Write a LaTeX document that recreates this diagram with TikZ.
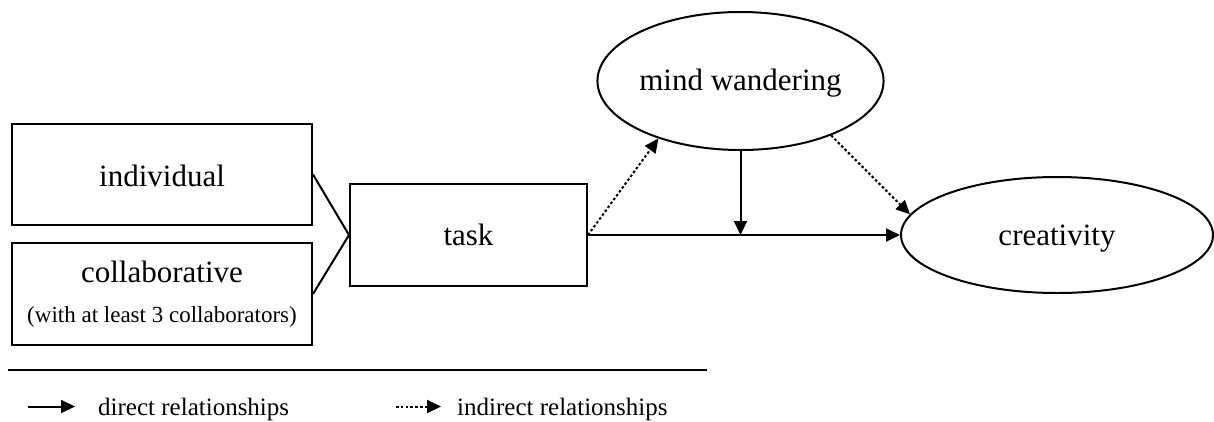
\documentclass[tikz,border=0pt]{standalone}
\usepackage{fontspec}
\setmainfont{Liberation Serif}
\usetikzlibrary{arrows.meta,shapes.geometric}

\tikzset{
  every picture/.style={x=1pt,y=-1pt},
  stroke/.style={line width=2pt},
  boxnode/.style={stroke, draw, rectangle, inner sep=0pt, font=\fontsize{31}{37}\selectfont, align=center},
  ovalnode/.style={stroke, draw, ellipse, inner sep=0pt, font=\fontsize{31}{37}\selectfont},
  arr/.style={stroke, -{Triangle[length=14pt,width=13pt]}},
  dotarr/.style={arr, dash pattern=on 2.6pt off 2.2pt},
  legendtext/.style={anchor=base west, inner sep=0pt, font=\fontsize{25}{30}\selectfont},
}

\begin{document}
\begin{tikzpicture}
  \useasboundingbox (0,0) rectangle (1214,421);

  % task conditions
  \node[boxnode, minimum width=300pt, minimum height=101pt, text height=23pt, text depth=0pt]
    (indiv) at (162,174.5) {individual};
  \node[boxnode, minimum width=300pt, minimum height=102pt] (collab) at (162,294)
    {collaborative\\[3pt]{\fontsize{23}{30}\selectfont (with at least 3 collaborators)}};
  \node[boxnode, minimum width=237pt, minimum height=102pt, text height=20pt, text depth=0pt]
    (task) at (468.5,235) {task};

  % mediator and outcome
  \node[ovalnode, minimum width=263pt, minimum height=138pt, text height=18pt, text depth=0pt]
    (mind) at (740.5,81) {mind wandering};
  \node[ovalnode, minimum width=312pt, minimum height=116pt, text height=20pt, text depth=0pt]
    (creat) at (1057,235) {creativity};

  % conditions feed into the task
  \draw[stroke] (indiv.east) -- (task.west);
  \draw[stroke] (collab.east) -- (task.west);

  % relationships
  \coordinate (join) at (mind.south |- task.east);
  \draw[arr] (task.east) -- (creat.west);
  \draw[arr] (mind.south) -- (join);
  \draw[dotarr] (task.east) -- (mind.215);
  \draw[dotarr] (mind.329) -- (creat.172);

  % legend
  \coordinate (ruleL) at (8,370);
  \coordinate (ruleR) at (707,370);
  \draw[stroke] (ruleL) -- (ruleR);

  \coordinate (dirA) at (28,406.5);
  \coordinate (dirB) at (75,406.5);
  \draw[arr] (dirA) -- (dirB);
  \node[legendtext] (dirtext) at (98,415) {direct relationships};

  \coordinate (indA) at (396,406.5);
  \coordinate (indB) at (441,406.5);
  \draw[dotarr] (indA) -- (indB);
  \node[legendtext] (indtext) at (457,415) {indirect relationships};
\end{tikzpicture}
\end{document}
